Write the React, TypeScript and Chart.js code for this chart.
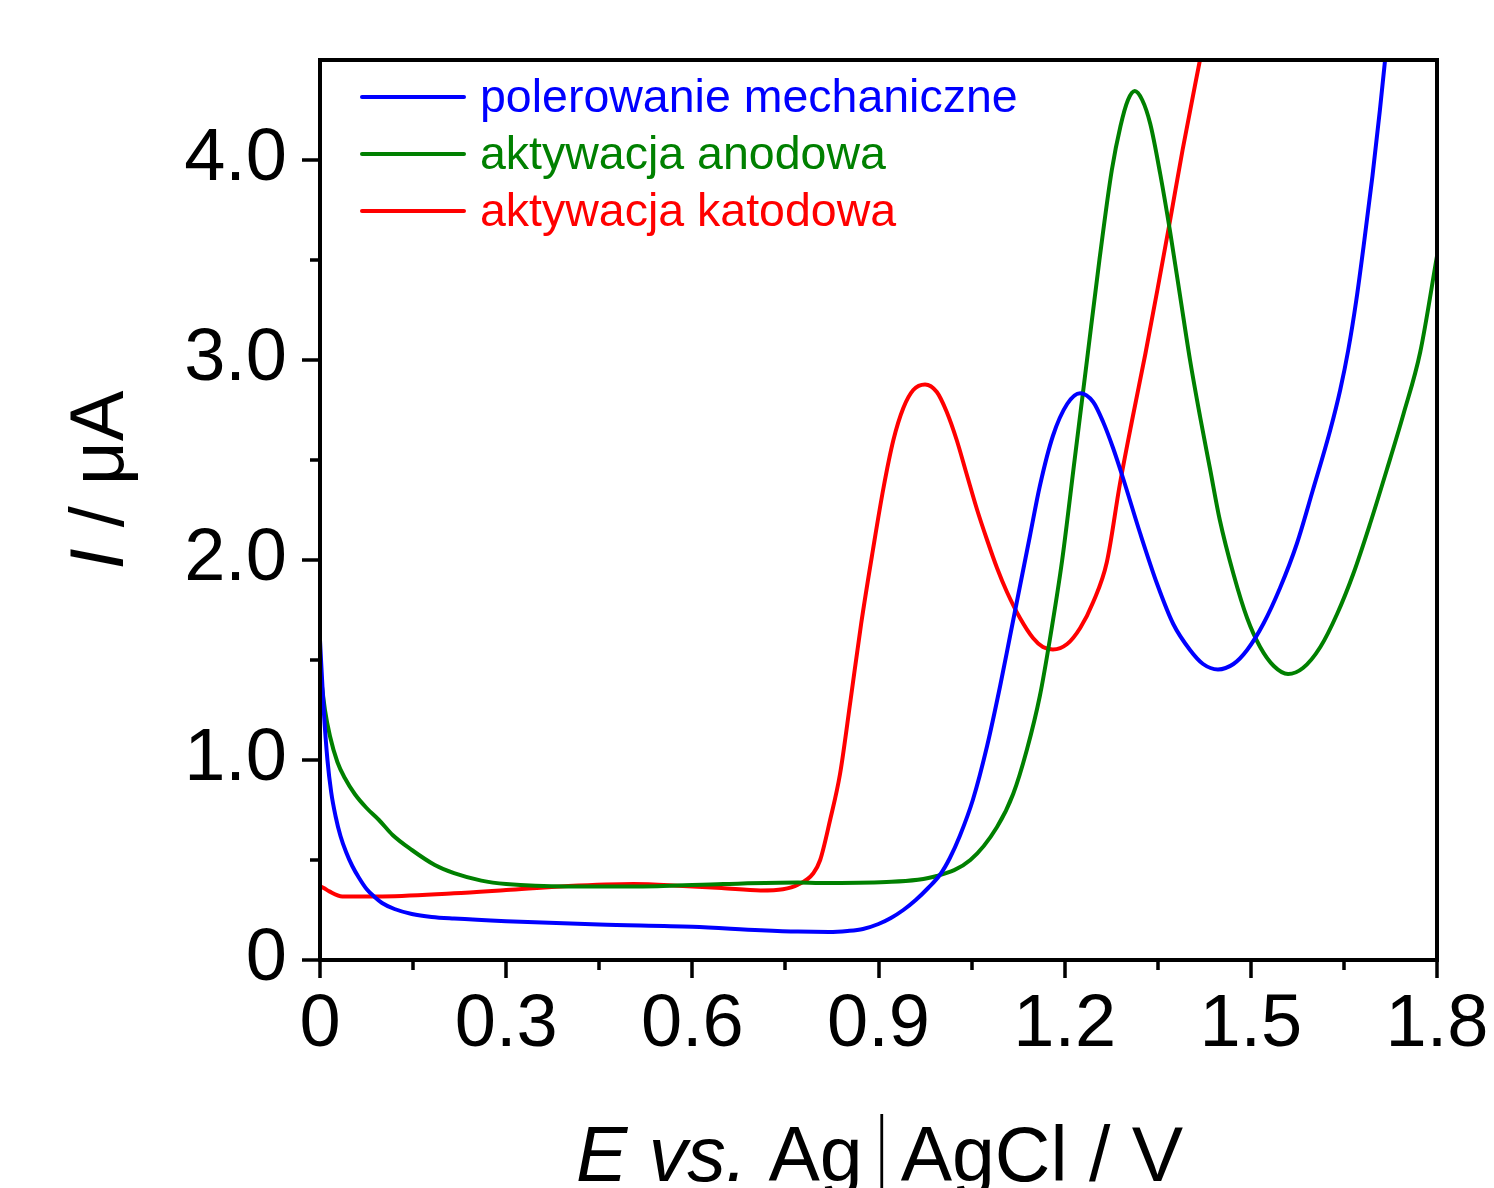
import React, { useEffect, useRef } from "react";
import { Chart, registerables } from "chart.js";

Chart.register(...registerables);

// ---- data ----
const blueE = [0, 0.006, 0.012, 0.018, 0.025, 0.033, 0.042, 0.052, 0.063, 0.075, 0.088, 0.1, 0.12, 0.148, 0.18, 0.216, 0.3, 0.45, 0.6, 0.71, 0.77, 0.82, 0.85, 0.875, 0.9, 0.92, 0.94, 0.96, 0.98, 1.0, 1.015, 1.031, 1.052, 1.075, 1.096, 1.112, 1.128, 1.144, 1.16, 1.181, 1.204, 1.225, 1.246, 1.262, 1.278, 1.294, 1.322, 1.349, 1.375, 1.402, 1.423, 1.447, 1.472, 1.494, 1.52, 1.547, 1.574, 1.6, 1.628, 1.644, 1.657, 1.67, 1.683, 1.696, 1.708, 1.718, 1.73];
const blueI = [1.6, 1.25, 1.0, 0.84, 0.72, 0.62, 0.54, 0.47, 0.41, 0.355, 0.315, 0.285, 0.255, 0.23, 0.215, 0.207, 0.194, 0.177, 0.166, 0.149, 0.142, 0.14, 0.145, 0.155, 0.18, 0.21, 0.25, 0.3, 0.36, 0.43, 0.51, 0.62, 0.8, 1.07, 1.37, 1.62, 1.87, 2.12, 2.37, 2.62, 2.78, 2.834, 2.79, 2.69, 2.56, 2.41, 2.13, 1.88, 1.68, 1.55, 1.48, 1.453, 1.48, 1.55, 1.68, 1.86, 2.08, 2.35, 2.65, 2.85, 3.05, 3.3, 3.6, 3.92, 4.25, 4.55, 4.95];

const greenE = [0, 0.008, 0.016, 0.028, 0.04, 0.056, 0.075, 0.095, 0.117, 0.148, 0.185, 0.216, 0.26, 0.3, 0.4, 0.52, 0.65, 0.77, 0.806, 0.913, 0.994, 1.048, 1.091, 1.117, 1.139, 1.16, 1.176, 1.196, 1.216, 1.236, 1.256, 1.276, 1.29, 1.302, 1.313, 1.325, 1.338, 1.354, 1.37, 1.386, 1.402, 1.418, 1.434, 1.45, 1.472, 1.494, 1.515, 1.537, 1.56, 1.584, 1.612, 1.639, 1.665, 1.692, 1.719, 1.746, 1.773, 1.8];
const greenI = [1.45, 1.25, 1.12, 0.99, 0.91, 0.83, 0.76, 0.7, 0.625, 0.55, 0.475, 0.434, 0.397, 0.38, 0.368, 0.368, 0.38, 0.387, 0.385, 0.39, 0.42, 0.5, 0.665, 0.83, 1.05, 1.32, 1.6, 2.0, 2.5, 3.0, 3.5, 3.95, 4.17, 4.3, 4.345, 4.3, 4.18, 3.93, 3.64, 3.32, 3.0, 2.72, 2.46, 2.2, 1.93, 1.71, 1.565, 1.47, 1.43, 1.46, 1.565, 1.73, 1.93, 2.18, 2.45, 2.73, 3.04, 3.52];

const redE = [0, 0.006, 0.015, 0.036, 0.092, 0.216, 0.3, 0.4, 0.505, 0.585, 0.647, 0.71, 0.746, 0.77, 0.795, 0.806, 0.822, 0.838, 0.855, 0.872, 0.891, 0.908, 0.924, 0.94, 0.956, 0.975, 0.994, 1.01, 1.026, 1.042, 1.059, 1.075, 1.091, 1.107, 1.128, 1.149, 1.165, 1.181, 1.204, 1.225, 1.246, 1.268, 1.289, 1.31, 1.33, 1.35, 1.37, 1.39, 1.418, 1.44];
const redI = [0.37, 0.36, 0.343, 0.318, 0.318, 0.334, 0.35, 0.37, 0.38, 0.37, 0.36, 0.348, 0.354, 0.376, 0.434, 0.5, 0.7, 0.93, 1.3, 1.68, 2.05, 2.36, 2.6, 2.76, 2.85, 2.878, 2.84, 2.74, 2.6, 2.43, 2.25, 2.1, 1.96, 1.84, 1.71, 1.61, 1.565, 1.553, 1.58, 1.66, 1.79, 1.99, 2.38, 2.72, 3.03, 3.36, 3.7, 4.05, 4.5, 4.85];

const seriesNames = ["polerowanie mechaniczne", "aktywacja anodowa", "aktywacja katodowa"];
const seriesColors = ["#0000ff", "#008000", "#ff0000"];

const xTicks = [0, 0.3, 0.6, 0.9, 1.2, 1.5, 1.8];
const xMinorTicks = [0.15, 0.45, 0.75, 1.05, 1.35, 1.65];
const yTicks = [0, 1, 2, 3, 4];
const yMinorTicks = [0.5, 1.5, 2.5, 3.5];

const FONT = "'Liberation Sans', Arial, Helvetica, sans-serif";

const toPts = (xs: number[], ys: number[]) => xs.map((x, i) => ({ x, y: ys[i] }));
const fmt = (v: number) => (Math.abs(v) < 1e-9 ? "0" : Number(v).toFixed(1));

const decorPlugin = {
  id: "decor",
  afterDraw(chart: any) {
    const ctx = chart.ctx as CanvasRenderingContext2D;
    const { left, right, top, bottom } = chart.chartArea;
    const xs = chart.scales.x;
    const ys = chart.scales.y;
    ctx.save();
    // frame
    ctx.strokeStyle = "#000";
    ctx.lineWidth = 4;
    ctx.lineCap = "square";
    ctx.strokeRect(left, top, right - left, bottom - top);
    // ticks
    const major = 18;
    const minor = 10;
    ctx.lineWidth = 3.5;
    ctx.lineCap = "butt";
    ctx.beginPath();
    xTicks.forEach((v) => {
      const px = Math.round(xs.getPixelForValue(v));
      ctx.moveTo(px, bottom);
      ctx.lineTo(px, bottom + major);
    });
    xMinorTicks.forEach((v) => {
      const px = Math.round(xs.getPixelForValue(v));
      ctx.moveTo(px, bottom);
      ctx.lineTo(px, bottom + minor);
    });
    yTicks.forEach((v) => {
      const py = Math.round(ys.getPixelForValue(v));
      ctx.moveTo(left, py);
      ctx.lineTo(left - major, py);
    });
    yMinorTicks.forEach((v) => {
      const py = Math.round(ys.getPixelForValue(v));
      ctx.moveTo(left, py);
      ctx.lineTo(left - minor, py);
    });
    ctx.stroke();

    // legend
    ctx.font = `46.5px ${FONT}`;
    ctx.textAlign = "left";
    ctx.textBaseline = "alphabetic";
    seriesNames.forEach((name, i) => {
      const ly = 97 + i * 57;
      ctx.strokeStyle = seriesColors[i];
      ctx.lineWidth = 4;
      ctx.lineCap = "round";
      ctx.beginPath();
      ctx.moveTo(362, ly);
      ctx.lineTo(464, ly);
      ctx.stroke();
      ctx.fillStyle = seriesColors[i];
      ctx.fillText(name, 480, ly + 15);
    });

    // x title
    ctx.fillStyle = "#000";
    const size = 77;
    const it = `italic ${size}px ${FONT}`;
    const rg = `${size}px ${FONT}`;
    const segs: [string, string][] = [
      ["E", it],
      [" vs.", it],
      [" Ag", rg],
    ];
    const tail = "AgCl / V";
    let total = 0;
    segs.forEach(([t, f]) => {
      ctx.font = f;
      total += ctx.measureText(t).width;
    });
    const gap = 19;
    ctx.font = rg;
    const tailW = ctx.measureText(tail).width;
    total += gap * 2 + tailW;
    let cx = (left + right) / 2 + 1 - total / 2;
    const baseY = 1181;
    segs.forEach(([t, f]) => {
      ctx.font = f;
      ctx.fillText(t, cx, baseY);
      cx += ctx.measureText(t).width;
    });
    cx += gap;
    // thin separator bar
    ctx.save();
    ctx.font = rg;
    const barW = ctx.measureText("|").width;
    ctx.translate(cx, baseY - 8);
    ctx.scale(0.45, 1.05);
    ctx.fillText("|", -barW / 2, 0);
    ctx.restore();
    cx += gap;
    ctx.font = rg;
    ctx.fillText(tail, cx, baseY);

    // y title
    ctx.save();
    ctx.translate(123, 480);
    ctx.rotate(-Math.PI / 2);
    const ysegs: [string, string][] = [
      ["I", `italic 76px ${FONT}`],
      [" / \u03bcA", `76px ${FONT}`],
    ];
    let yw = 0;
    ysegs.forEach(([t, f]) => {
      ctx.font = f;
      yw += ctx.measureText(t).width;
    });
    let yx = -yw / 2;
    ysegs.forEach(([t, f]) => {
      ctx.font = f;
      ctx.fillText(t, yx, 0);
      yx += ctx.measureText(t).width;
    });
    ctx.restore();

    ctx.restore();
  },
};

const zeroPad = (s: any) => {
  s.paddingTop = 0;
  s.paddingBottom = 0;
  s.paddingLeft = 0;
  s.paddingRight = 0;
};

export default function App() {
  const ref = useRef<HTMLCanvasElement | null>(null);
  useEffect(() => {
    document.body.style.margin = "0";
    if (!ref.current) return;
    const ds = (xs: number[], ys: number[], i: number) => ({
      label: seriesNames[i],
      data: toPts(xs, ys),
      borderColor: seriesColors[i],
      backgroundColor: seriesColors[i],
      borderWidth: 4,
      pointRadius: 0,
      fill: false,
      cubicInterpolationMode: "monotone" as const,
      borderJoinStyle: "round" as const,
      borderCapStyle: "round" as const,
    });
    const chart = new Chart(ref.current, {
      type: "line",
      data: {
        datasets: [ds(blueE, blueI, 0), ds(greenE, greenI, 1), ds(redE, redI, 2)],
      },
      plugins: [decorPlugin],
      options: {
        responsive: false,
        animation: false,
        devicePixelRatio: 1,
        layout: { padding: { top: 60, right: 57, left: 0, bottom: 0 } },
        plugins: { legend: { display: false }, tooltip: { enabled: false } },
        scales: {
          x: {
            type: "linear",
            min: 0,
            max: 1.8,
            grid: { display: false, drawTicks: false },
            border: { display: false },
            afterBuildTicks: (s: any) => {
              s.ticks = xTicks.map((v) => ({ value: v }));
            },
            afterFit: (s: any) => {
              s.height = 228;
              zeroPad(s);
            },
            ticks: {
              callback: (v: any) => fmt(Number(v)),
              color: "#000",
              padding: 21,
              maxRotation: 0,
              autoSkip: false,
              font: { family: FONT, size: 74 },
            },
          },
          y: {
            type: "linear",
            min: 0,
            max: 4.5,
            grid: { display: false, drawTicks: false },
            border: { display: false },
            afterBuildTicks: (s: any) => {
              s.ticks = yTicks.map((v) => ({ value: v }));
            },
            afterFit: (s: any) => {
              s.width = 320;
              zeroPad(s);
            },
            ticks: {
              callback: (v: any) => fmt(Number(v)),
              color: "#000",
              padding: 33,
              autoSkip: false,
              font: { family: FONT, size: 74 },
            },
          },
        },
      },
    });
    return () => chart.destroy();
  }, []);
  return (
    <div style={{ position: "absolute", left: 0, top: 0, width: 1494, height: 1188, background: "#fff" }}>
      <canvas ref={ref} width={1494} height={1188} style={{ display: "block" }} />
    </div>
  );
}
